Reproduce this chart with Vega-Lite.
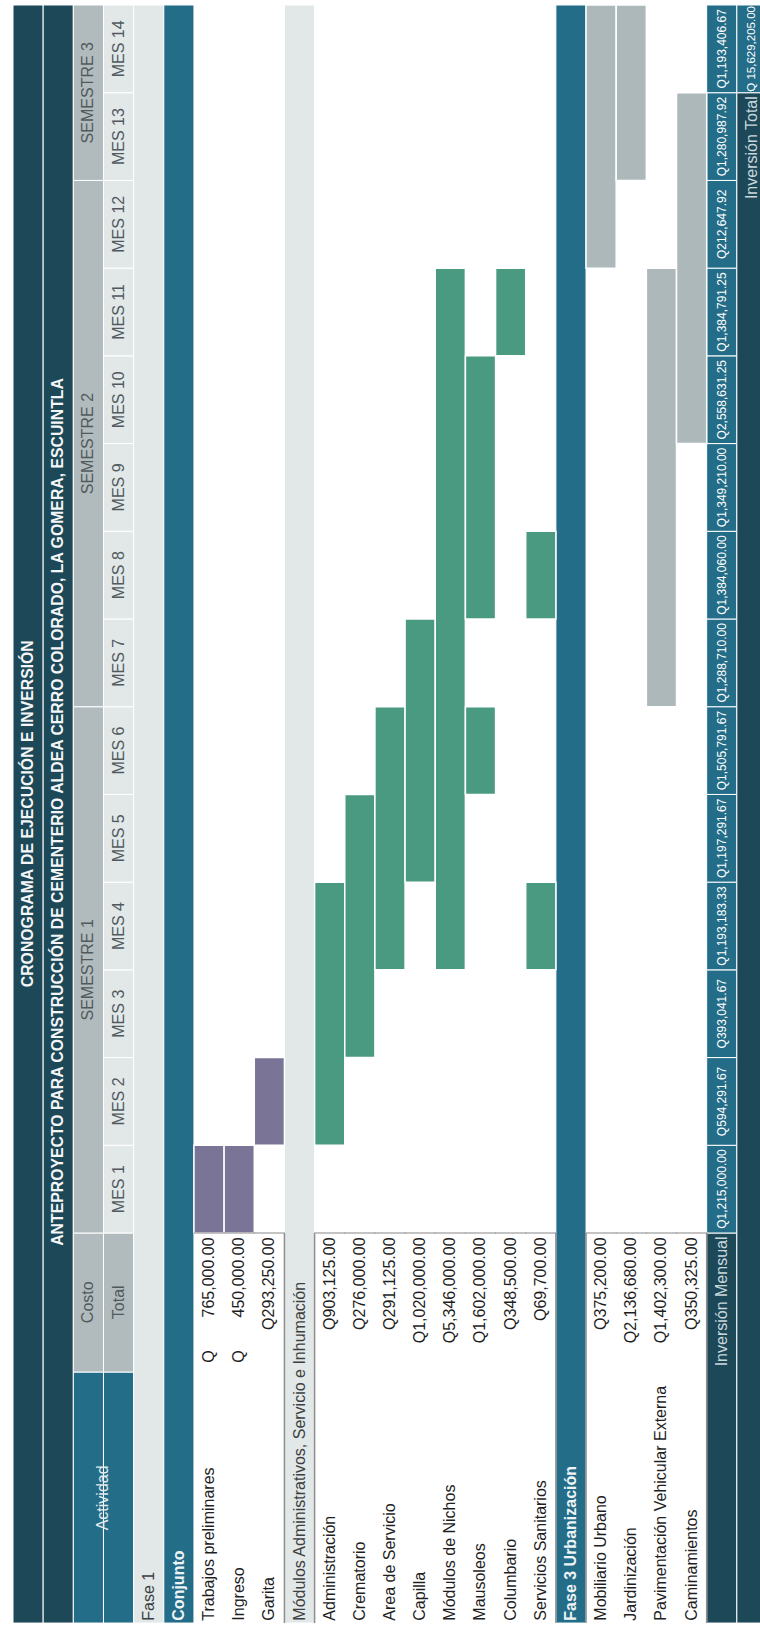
{
  "$schema": "https://vega.github.io/schema/vega-lite/v6.json",
  "width": 760,
  "height": 1627,
  "padding": 0,
  "autosize": {"type": "none"},
  "background": "white",
  "config": {
    "view": {"stroke": null},
    "text": {"font": "Liberation Sans", "angle": 270, "baseline": "middle", "fontSize": 16}
  },
  "datasets": {
    "celdas": [
      {"fila": "Título", "tipo": "oscuro", "ini": -4.447, "fin": 14},
      {"fila": "Subtítulo", "tipo": "oscuro", "ini": -4.447, "fin": 14},
      {"fila": "Semestre", "tipo": "azul", "ini": -4.447, "fin": -1.585},
      {"fila": "Semestre", "tipo": "gris", "ini": -1.585, "fin": 0},
      {"fila": "Semestre", "tipo": "gris", "ini": 0, "fin": 6},
      {"fila": "Semestre", "tipo": "gris", "ini": 6, "fin": 12},
      {"fila": "Semestre", "tipo": "gris", "ini": 12, "fin": 14},
      {"fila": "Mes", "tipo": "azul", "ini": -4.447, "fin": -1.585},
      {"fila": "Mes", "tipo": "gris", "ini": -1.585, "fin": 0},
      {"fila": "Mes", "tipo": "claro", "ini": 0, "fin": 1},
      {"fila": "Mes", "tipo": "claro", "ini": 1, "fin": 2},
      {"fila": "Mes", "tipo": "claro", "ini": 2, "fin": 3},
      {"fila": "Mes", "tipo": "claro", "ini": 3, "fin": 4},
      {"fila": "Mes", "tipo": "claro", "ini": 4, "fin": 5},
      {"fila": "Mes", "tipo": "claro", "ini": 5, "fin": 6},
      {"fila": "Mes", "tipo": "claro", "ini": 6, "fin": 7},
      {"fila": "Mes", "tipo": "claro", "ini": 7, "fin": 8},
      {"fila": "Mes", "tipo": "claro", "ini": 8, "fin": 9},
      {"fila": "Mes", "tipo": "claro", "ini": 9, "fin": 10},
      {"fila": "Mes", "tipo": "claro", "ini": 10, "fin": 11},
      {"fila": "Mes", "tipo": "claro", "ini": 11, "fin": 12},
      {"fila": "Mes", "tipo": "claro", "ini": 12, "fin": 13},
      {"fila": "Mes", "tipo": "claro", "ini": 13, "fin": 14},
      {"fila": "Fase 1", "tipo": "claro", "ini": -4.447, "fin": 14},
      {"fila": "Conjunto", "tipo": "azul", "ini": -4.447, "fin": 14},
      {"fila": "Módulos Administrativos, Servicio e Inhumación", "tipo": "claro", "ini": -4.447, "fin": 14},
      {"fila": "Fase 3 Urbanización", "tipo": "azul", "ini": -4.447, "fin": 14},
      {"fila": "Inversión Mensual", "tipo": "oscuro", "ini": -4.447, "fin": 0},
      {"fila": "Inversión Mensual", "tipo": "azul", "ini": 0, "fin": 1},
      {"fila": "Inversión Mensual", "tipo": "azul", "ini": 1, "fin": 2},
      {"fila": "Inversión Mensual", "tipo": "azul", "ini": 2, "fin": 3},
      {"fila": "Inversión Mensual", "tipo": "azul", "ini": 3, "fin": 4},
      {"fila": "Inversión Mensual", "tipo": "azul", "ini": 4, "fin": 5},
      {"fila": "Inversión Mensual", "tipo": "azul", "ini": 5, "fin": 6},
      {"fila": "Inversión Mensual", "tipo": "azul", "ini": 6, "fin": 7},
      {"fila": "Inversión Mensual", "tipo": "azul", "ini": 7, "fin": 8},
      {"fila": "Inversión Mensual", "tipo": "azul", "ini": 8, "fin": 9},
      {"fila": "Inversión Mensual", "tipo": "azul", "ini": 9, "fin": 10},
      {"fila": "Inversión Mensual", "tipo": "azul", "ini": 10, "fin": 11},
      {"fila": "Inversión Mensual", "tipo": "azul", "ini": 11, "fin": 12},
      {"fila": "Inversión Mensual", "tipo": "azul", "ini": 12, "fin": 13},
      {"fila": "Inversión Mensual", "tipo": "azul", "ini": 13, "fin": 14},
      {"fila": "Inversión Total", "tipo": "oscuro", "ini": -4.447, "fin": 13},
      {"fila": "Inversión Total", "tipo": "azul", "ini": 13, "fin": 14}
    ],
    "cronograma": [
      {"fila": "Trabajos preliminares", "fase": "Fase 1", "inicio": 0, "fin": 1},
      {"fila": "Ingreso", "fase": "Fase 1", "inicio": 0, "fin": 1},
      {"fila": "Garita", "fase": "Fase 1", "inicio": 1, "fin": 2},
      {"fila": "Administración", "fase": "Fase 2", "inicio": 1, "fin": 4},
      {"fila": "Crematorio", "fase": "Fase 2", "inicio": 2, "fin": 5},
      {"fila": "Area de Servicio", "fase": "Fase 2", "inicio": 3, "fin": 6},
      {"fila": "Capilla", "fase": "Fase 2", "inicio": 4, "fin": 7},
      {"fila": "Módulos de Nichos", "fase": "Fase 2", "inicio": 3, "fin": 11},
      {"fila": "Mausoleos", "fase": "Fase 2", "inicio": 5, "fin": 6},
      {"fila": "Mausoleos", "fase": "Fase 2", "inicio": 7, "fin": 10},
      {"fila": "Columbario", "fase": "Fase 2", "inicio": 10, "fin": 11},
      {"fila": "Servicios Sanitarios", "fase": "Fase 2", "inicio": 3, "fin": 4},
      {"fila": "Servicios Sanitarios", "fase": "Fase 2", "inicio": 7, "fin": 8},
      {"fila": "Mobiliario Urbano", "fase": "Fase 3", "inicio": 11, "fin": 14},
      {"fila": "Jardinización", "fase": "Fase 3", "inicio": 12, "fin": 14},
      {"fila": "Pavimentación Vehicular Externa", "fase": "Fase 3", "inicio": 6, "fin": 11},
      {"fila": "Caminamientos", "fase": "Fase 3", "inicio": 9, "fin": 13}
    ],
    "actividades": [
      {"fila": "Trabajos preliminares", "costo": "765,000.00", "moneda": "Q"},
      {"fila": "Ingreso", "costo": "450,000.00", "moneda": "Q"},
      {"fila": "Garita", "costo": "Q293,250.00", "moneda": ""},
      {"fila": "Administración", "costo": "Q903,125.00", "moneda": ""},
      {"fila": "Crematorio", "costo": "Q276,000.00", "moneda": ""},
      {"fila": "Area de Servicio", "costo": "Q291,125.00", "moneda": ""},
      {"fila": "Capilla", "costo": "Q1,020,000.00", "moneda": ""},
      {"fila": "Módulos de Nichos", "costo": "Q5,346,000.00", "moneda": ""},
      {"fila": "Mausoleos", "costo": "Q1,602,000.00", "moneda": ""},
      {"fila": "Columbario", "costo": "Q348,500.00", "moneda": ""},
      {"fila": "Servicios Sanitarios", "costo": "Q69,700.00", "moneda": ""},
      {"fila": "Mobiliario Urbano", "costo": "Q375,200.00", "moneda": ""},
      {"fila": "Jardinización", "costo": "Q2,136,680.00", "moneda": ""},
      {"fila": "Pavimentación Vehicular Externa", "costo": "Q1,402,300.00", "moneda": ""},
      {"fila": "Caminamientos", "costo": "Q350,325.00", "moneda": ""}
    ],
    "meses": [
      {"mes": 1, "etiqueta": "MES 1", "inversion": "Q1,215,000.00"},
      {"mes": 2, "etiqueta": "MES 2", "inversion": "Q594,291.67"},
      {"mes": 3, "etiqueta": "MES 3", "inversion": "Q393,041.67"},
      {"mes": 4, "etiqueta": "MES 4", "inversion": "Q1,193,183.33"},
      {"mes": 5, "etiqueta": "MES 5", "inversion": "Q1,197,291.67"},
      {"mes": 6, "etiqueta": "MES 6", "inversion": "Q1,505,791.67"},
      {"mes": 7, "etiqueta": "MES 7", "inversion": "Q1,288,710.00"},
      {"mes": 8, "etiqueta": "MES 8", "inversion": "Q1,384,060.00"},
      {"mes": 9, "etiqueta": "MES 9", "inversion": "Q1,349,210.00"},
      {"mes": 10, "etiqueta": "MES 10", "inversion": "Q2,558,631.25"},
      {"mes": 11, "etiqueta": "MES 11", "inversion": "Q1,384,791.25"},
      {"mes": 12, "etiqueta": "MES 12", "inversion": "Q212,647.92"},
      {"mes": 13, "etiqueta": "MES 13", "inversion": "Q1,280,987.92"},
      {"mes": 14, "etiqueta": "MES 14", "inversion": "Q1,193,406.67"}
    ],
    "titulos": [
      {"fila": "Título", "texto": "CRONOGRAMA DE EJECUCIÓN E INVERSIÓN", "pos": 4.78},
      {"fila": "Subtítulo", "texto": "ANTEPROYECTO PARA CONSTRUCCIÓN DE CEMENTERIO ALDEA CERRO COLORADO, LA GOMERA, ESCUINTLA", "pos": 4.8}
    ],
    "encabezados": [
      {"fila": "Semestre", "texto": "Costo", "pos": -0.79},
      {"fila": "Mes", "texto": "Total", "pos": -0.79},
      {"fila": "Semestre", "texto": "SEMESTRE 1", "pos": 3},
      {"fila": "Semestre", "texto": "SEMESTRE 2", "pos": 9},
      {"fila": "Semestre", "texto": "SEMESTRE 3", "pos": 13}
    ],
    "actividad_encabezado": [
      {"fila": "Mes", "texto": "Actividad", "pos": -3.02}
    ],
    "secciones": [
      {"fila": "Fase 1", "fondo": "claro"},
      {"fila": "Conjunto", "fondo": "azul"},
      {"fila": "Módulos Administrativos, Servicio e Inhumación", "fondo": "claro"},
      {"fila": "Fase 3 Urbanización", "fondo": "azul"}
    ],
    "bordes": [
      {"fila": "Módulos Administrativos, Servicio e Inhumación"},
      {"fila": "Administración"},
      {"fila": "Fase 3 Urbanización"},
      {"fila": "Mobiliario Urbano"},
      {"fila": "Inversión Mensual"}
    ],
    "resumen_etiquetas": [
      {"fila": "Inversión Mensual", "texto": "Inversión Mensual", "pos": -0.04},
      {"fila": "Inversión Total", "texto": "Inversión Total", "pos": 12.96}
    ],
    "resumen_valor": [
      {"fila": "Inversión Total", "texto": "Q 15,629,205.00", "pos": 13.5}
    ]
  },
  "layer": [
    {
      "data": {"name": "celdas"},
      "mark": {"type": "rect", "stroke": "white", "strokeWidth": 1},
      "encoding": {
        "x": {"field": "fila", "type": "nominal", "axis": null, "scale": {"type": "band", "domain": ["Título","Subtítulo","Semestre","Mes","Fase 1","Conjunto","Trabajos preliminares","Ingreso","Garita","Módulos Administrativos, Servicio e Inhumación","Administración","Crematorio","Area de Servicio","Capilla","Módulos de Nichos","Mausoleos","Columbario","Servicios Sanitarios","Fase 3 Urbanización","Mobiliario Urbano","Jardinización","Pavimentación Vehicular Externa","Caminamientos","Inversión Mensual","Inversión Total"], "range": [13, 767], "paddingInner": 0, "paddingOuter": 0}},
        "y": {"field": "ini", "type": "quantitative", "axis": null, "scale": {"domain": [-4.492, 14.057], "nice": false, "zero": false}},
        "y2": {"field": "fin"},
        "color": {"field": "tipo", "type": "nominal", "legend": null, "scale": {"domain": ["oscuro", "azul", "gris", "claro", "Fase 1", "Fase 2", "Fase 3"], "range": ["#1c4858", "#246d89", "#b1bbbe", "#e2e7e8", "#7a7496", "#4a9a82", "#adb8bb"]}}
      }
    },
    {
      "data": {"name": "cronograma"},
      "mark": {"type": "rect", "stroke": "white", "strokeWidth": 1.5},
      "encoding": {
        "x": {"field": "fila", "type": "nominal", "axis": null, "scale": {"type": "band", "domain": ["Título","Subtítulo","Semestre","Mes","Fase 1","Conjunto","Trabajos preliminares","Ingreso","Garita","Módulos Administrativos, Servicio e Inhumación","Administración","Crematorio","Area de Servicio","Capilla","Módulos de Nichos","Mausoleos","Columbario","Servicios Sanitarios","Fase 3 Urbanización","Mobiliario Urbano","Jardinización","Pavimentación Vehicular Externa","Caminamientos","Inversión Mensual","Inversión Total"], "range": [13, 767], "paddingInner": 0, "paddingOuter": 0}},
        "y": {"field": "inicio", "type": "quantitative", "axis": null, "scale": {"domain": [-4.492, 14.057], "nice": false, "zero": false}},
        "y2": {"field": "fin"},
        "color": {"field": "fase", "type": "nominal", "legend": null, "scale": {"domain": ["oscuro", "azul", "gris", "claro", "Fase 1", "Fase 2", "Fase 3"], "range": ["#1c4858", "#246d89", "#b1bbbe", "#e2e7e8", "#7a7496", "#4a9a82", "#adb8bb"]}}
      }
    },
    {
      "data": {"name": "bordes"},
      "mark": {"type": "rule", "color": "#8e8e8e", "strokeWidth": 1.5},
      "encoding": {
        "x": {"field": "fila", "type": "nominal", "bandPosition": 0, "axis": null, "scale": {"type": "band", "domain": ["Título","Subtítulo","Semestre","Mes","Fase 1","Conjunto","Trabajos preliminares","Ingreso","Garita","Módulos Administrativos, Servicio e Inhumación","Administración","Crematorio","Area de Servicio","Capilla","Módulos de Nichos","Mausoleos","Columbario","Servicios Sanitarios","Fase 3 Urbanización","Mobiliario Urbano","Jardinización","Pavimentación Vehicular Externa","Caminamientos","Inversión Mensual","Inversión Total"], "range": [13, 767], "paddingInner": 0, "paddingOuter": 0}},
        "y": {"datum": -4.447, "type": "quantitative", "axis": null, "scale": {"domain": [-4.492, 14.057], "nice": false, "zero": false}},
        "y2": {"datum": 0}
      }
    },
    {
      "data": {"name": "actividades"},
      "mark": {"type": "tick", "orient": "horizontal", "color": "#8e8e8e", "thickness": 1.5, "size": 31},
      "encoding": {
        "x": {"field": "fila", "type": "nominal", "axis": null, "scale": {"type": "band", "domain": ["Título","Subtítulo","Semestre","Mes","Fase 1","Conjunto","Trabajos preliminares","Ingreso","Garita","Módulos Administrativos, Servicio e Inhumación","Administración","Crematorio","Area de Servicio","Capilla","Módulos de Nichos","Mausoleos","Columbario","Servicios Sanitarios","Fase 3 Urbanización","Mobiliario Urbano","Jardinización","Pavimentación Vehicular Externa","Caminamientos","Inversión Mensual","Inversión Total"], "range": [13, 767], "paddingInner": 0, "paddingOuter": 0}},
        "y": {"datum": 0, "type": "quantitative", "axis": null, "scale": {"domain": [-4.492, 14.057], "nice": false, "zero": false}}
      }
    },
    {
      "data": {"name": "titulos"},
      "mark": {"type": "text", "fontWeight": "bold", "color": "#f4f6f7", "align": "center", "fontSize": 15.8},
      "encoding": {
        "x": {"field": "fila", "type": "nominal", "axis": null, "scale": {"type": "band", "domain": ["Título","Subtítulo","Semestre","Mes","Fase 1","Conjunto","Trabajos preliminares","Ingreso","Garita","Módulos Administrativos, Servicio e Inhumación","Administración","Crematorio","Area de Servicio","Capilla","Módulos de Nichos","Mausoleos","Columbario","Servicios Sanitarios","Fase 3 Urbanización","Mobiliario Urbano","Jardinización","Pavimentación Vehicular Externa","Caminamientos","Inversión Mensual","Inversión Total"], "range": [13, 767], "paddingInner": 0, "paddingOuter": 0}},
        "y": {"field": "pos", "type": "quantitative", "axis": null, "scale": {"domain": [-4.492, 14.057], "nice": false, "zero": false}},
        "text": {"field": "texto"}
      }
    },
    {
      "data": {"name": "encabezados"},
      "mark": {"type": "text", "color": "#505a5d", "align": "center"},
      "encoding": {
        "x": {"field": "fila", "type": "nominal", "axis": null, "scale": {"type": "band", "domain": ["Título","Subtítulo","Semestre","Mes","Fase 1","Conjunto","Trabajos preliminares","Ingreso","Garita","Módulos Administrativos, Servicio e Inhumación","Administración","Crematorio","Area de Servicio","Capilla","Módulos de Nichos","Mausoleos","Columbario","Servicios Sanitarios","Fase 3 Urbanización","Mobiliario Urbano","Jardinización","Pavimentación Vehicular Externa","Caminamientos","Inversión Mensual","Inversión Total"], "range": [13, 767], "paddingInner": 0, "paddingOuter": 0}},
        "y": {"field": "pos", "type": "quantitative", "axis": null, "scale": {"domain": [-4.492, 14.057], "nice": false, "zero": false}},
        "text": {"field": "texto"}
      }
    },
    {
      "data": {"name": "meses"},
      "mark": {"type": "text", "color": "#505a5d", "align": "center", "dx": -43.86},
      "encoding": {
        "x": {"datum": "Mes", "type": "nominal", "axis": null, "scale": {"type": "band", "domain": ["Título","Subtítulo","Semestre","Mes","Fase 1","Conjunto","Trabajos preliminares","Ingreso","Garita","Módulos Administrativos, Servicio e Inhumación","Administración","Crematorio","Area de Servicio","Capilla","Módulos de Nichos","Mausoleos","Columbario","Servicios Sanitarios","Fase 3 Urbanización","Mobiliario Urbano","Jardinización","Pavimentación Vehicular Externa","Caminamientos","Inversión Mensual","Inversión Total"], "range": [13, 767], "paddingInner": 0, "paddingOuter": 0}},
        "y": {"field": "mes", "type": "quantitative", "axis": null, "scale": {"domain": [-4.492, 14.057], "nice": false, "zero": false}},
        "text": {"field": "etiqueta"}
      }
    },
    {
      "data": {"name": "meses"},
      "mark": {"type": "text", "color": "#ffffff", "align": "center", "dx": -43.86, "fontSize": 12},
      "encoding": {
        "x": {"datum": "Inversión Mensual", "type": "nominal", "axis": null, "scale": {"type": "band", "domain": ["Título","Subtítulo","Semestre","Mes","Fase 1","Conjunto","Trabajos preliminares","Ingreso","Garita","Módulos Administrativos, Servicio e Inhumación","Administración","Crematorio","Area de Servicio","Capilla","Módulos de Nichos","Mausoleos","Columbario","Servicios Sanitarios","Fase 3 Urbanización","Mobiliario Urbano","Jardinización","Pavimentación Vehicular Externa","Caminamientos","Inversión Mensual","Inversión Total"], "range": [13, 767], "paddingInner": 0, "paddingOuter": 0}},
        "y": {"field": "mes", "type": "quantitative", "axis": null, "scale": {"domain": [-4.492, 14.057], "nice": false, "zero": false}},
        "text": {"field": "inversion"}
      }
    },
    {
      "data": {"name": "actividad_encabezado"},
      "mark": {"type": "text", "color": "#e3ebee", "align": "center"},
      "encoding": {
        "x": {"field": "fila", "type": "nominal", "bandPosition": 0, "axis": null, "scale": {"type": "band", "domain": ["Título","Subtítulo","Semestre","Mes","Fase 1","Conjunto","Trabajos preliminares","Ingreso","Garita","Módulos Administrativos, Servicio e Inhumación","Administración","Crematorio","Area de Servicio","Capilla","Módulos de Nichos","Mausoleos","Columbario","Servicios Sanitarios","Fase 3 Urbanización","Mobiliario Urbano","Jardinización","Pavimentación Vehicular Externa","Caminamientos","Inversión Mensual","Inversión Total"], "range": [13, 767], "paddingInner": 0, "paddingOuter": 0}},
        "y": {"field": "pos", "type": "quantitative", "axis": null, "scale": {"domain": [-4.492, 14.057], "nice": false, "zero": false}},
        "text": {"field": "texto"}
      }
    },
    {
      "data": {"name": "secciones"},
      "transform": [{"filter": "datum.fondo === 'claro'"}],
      "mark": {"type": "text", "color": "#3b3f41", "align": "left"},
      "encoding": {
        "x": {"field": "fila", "type": "nominal", "axis": null, "scale": {"type": "band", "domain": ["Título","Subtítulo","Semestre","Mes","Fase 1","Conjunto","Trabajos preliminares","Ingreso","Garita","Módulos Administrativos, Servicio e Inhumación","Administración","Crematorio","Area de Servicio","Capilla","Módulos de Nichos","Mausoleos","Columbario","Servicios Sanitarios","Fase 3 Urbanización","Mobiliario Urbano","Jardinización","Pavimentación Vehicular Externa","Caminamientos","Inversión Mensual","Inversión Total"], "range": [13, 767], "paddingInner": 0, "paddingOuter": 0}},
        "y": {"datum": -4.42, "type": "quantitative", "axis": null, "scale": {"domain": [-4.492, 14.057], "nice": false, "zero": false}},
        "text": {"field": "fila"}
      }
    },
    {
      "data": {"name": "secciones"},
      "transform": [{"filter": "datum.fondo === 'azul'"}],
      "mark": {"type": "text", "color": "#eef4f6", "align": "left", "fontWeight": "bold"},
      "encoding": {
        "x": {"field": "fila", "type": "nominal", "axis": null, "scale": {"type": "band", "domain": ["Título","Subtítulo","Semestre","Mes","Fase 1","Conjunto","Trabajos preliminares","Ingreso","Garita","Módulos Administrativos, Servicio e Inhumación","Administración","Crematorio","Area de Servicio","Capilla","Módulos de Nichos","Mausoleos","Columbario","Servicios Sanitarios","Fase 3 Urbanización","Mobiliario Urbano","Jardinización","Pavimentación Vehicular Externa","Caminamientos","Inversión Mensual","Inversión Total"], "range": [13, 767], "paddingInner": 0, "paddingOuter": 0}},
        "y": {"datum": -4.42, "type": "quantitative", "axis": null, "scale": {"domain": [-4.492, 14.057], "nice": false, "zero": false}},
        "text": {"field": "fila"}
      }
    },
    {
      "data": {"name": "actividades"},
      "mark": {"type": "text", "color": "#1e1e1e", "align": "left"},
      "encoding": {
        "x": {"field": "fila", "type": "nominal", "axis": null, "scale": {"type": "band", "domain": ["Título","Subtítulo","Semestre","Mes","Fase 1","Conjunto","Trabajos preliminares","Ingreso","Garita","Módulos Administrativos, Servicio e Inhumación","Administración","Crematorio","Area de Servicio","Capilla","Módulos de Nichos","Mausoleos","Columbario","Servicios Sanitarios","Fase 3 Urbanización","Mobiliario Urbano","Jardinización","Pavimentación Vehicular Externa","Caminamientos","Inversión Mensual","Inversión Total"], "range": [13, 767], "paddingInner": 0, "paddingOuter": 0}},
        "y": {"datum": -4.42, "type": "quantitative", "axis": null, "scale": {"domain": [-4.492, 14.057], "nice": false, "zero": false}},
        "text": {"field": "fila"}
      }
    },
    {
      "data": {"name": "actividades"},
      "mark": {"type": "text", "color": "#1e1e1e", "align": "right"},
      "encoding": {
        "x": {"field": "fila", "type": "nominal", "axis": null, "scale": {"type": "band", "domain": ["Título","Subtítulo","Semestre","Mes","Fase 1","Conjunto","Trabajos preliminares","Ingreso","Garita","Módulos Administrativos, Servicio e Inhumación","Administración","Crematorio","Area de Servicio","Capilla","Módulos de Nichos","Mausoleos","Columbario","Servicios Sanitarios","Fase 3 Urbanización","Mobiliario Urbano","Jardinización","Pavimentación Vehicular Externa","Caminamientos","Inversión Mensual","Inversión Total"], "range": [13, 767], "paddingInner": 0, "paddingOuter": 0}},
        "y": {"datum": -0.05, "type": "quantitative", "axis": null, "scale": {"domain": [-4.492, 14.057], "nice": false, "zero": false}},
        "text": {"field": "costo"}
      }
    },
    {
      "data": {"name": "actividades"},
      "mark": {"type": "text", "color": "#1e1e1e", "align": "left"},
      "encoding": {
        "x": {"field": "fila", "type": "nominal", "axis": null, "scale": {"type": "band", "domain": ["Título","Subtítulo","Semestre","Mes","Fase 1","Conjunto","Trabajos preliminares","Ingreso","Garita","Módulos Administrativos, Servicio e Inhumación","Administración","Crematorio","Area de Servicio","Capilla","Módulos de Nichos","Mausoleos","Columbario","Servicios Sanitarios","Fase 3 Urbanización","Mobiliario Urbano","Jardinización","Pavimentación Vehicular Externa","Caminamientos","Inversión Mensual","Inversión Total"], "range": [13, 767], "paddingInner": 0, "paddingOuter": 0}},
        "y": {"datum": -1.48, "type": "quantitative", "axis": null, "scale": {"domain": [-4.492, 14.057], "nice": false, "zero": false}},
        "text": {"field": "moneda"}
      }
    },
    {
      "data": {"name": "resumen_etiquetas"},
      "mark": {"type": "text", "color": "#c9d7dd", "align": "right"},
      "encoding": {
        "x": {"field": "fila", "type": "nominal", "axis": null, "scale": {"type": "band", "domain": ["Título","Subtítulo","Semestre","Mes","Fase 1","Conjunto","Trabajos preliminares","Ingreso","Garita","Módulos Administrativos, Servicio e Inhumación","Administración","Crematorio","Area de Servicio","Capilla","Módulos de Nichos","Mausoleos","Columbario","Servicios Sanitarios","Fase 3 Urbanización","Mobiliario Urbano","Jardinización","Pavimentación Vehicular Externa","Caminamientos","Inversión Mensual","Inversión Total"], "range": [13, 767], "paddingInner": 0, "paddingOuter": 0}},
        "y": {"field": "pos", "type": "quantitative", "axis": null, "scale": {"domain": [-4.492, 14.057], "nice": false, "zero": false}},
        "text": {"field": "texto"}
      }
    },
    {
      "data": {"name": "resumen_valor"},
      "mark": {"type": "text", "color": "#ffffff", "align": "center", "fontSize": 11.5},
      "encoding": {
        "x": {"field": "fila", "type": "nominal", "axis": null, "scale": {"type": "band", "domain": ["Título","Subtítulo","Semestre","Mes","Fase 1","Conjunto","Trabajos preliminares","Ingreso","Garita","Módulos Administrativos, Servicio e Inhumación","Administración","Crematorio","Area de Servicio","Capilla","Módulos de Nichos","Mausoleos","Columbario","Servicios Sanitarios","Fase 3 Urbanización","Mobiliario Urbano","Jardinización","Pavimentación Vehicular Externa","Caminamientos","Inversión Mensual","Inversión Total"], "range": [13, 767], "paddingInner": 0, "paddingOuter": 0}},
        "y": {"field": "pos", "type": "quantitative", "axis": null, "scale": {"domain": [-4.492, 14.057], "nice": false, "zero": false}},
        "text": {"field": "texto"}
      }
    }
  ]
}
